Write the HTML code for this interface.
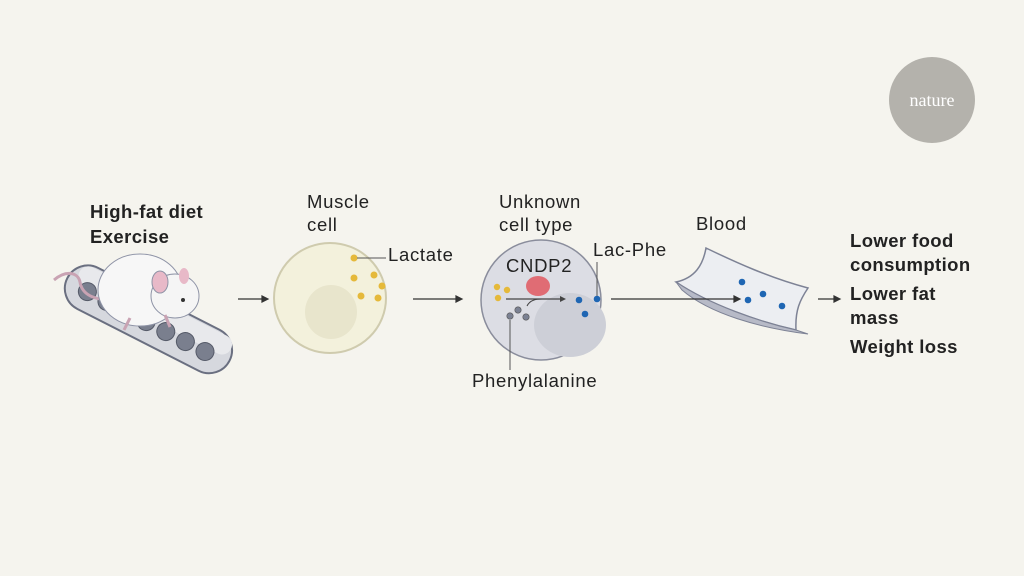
<!DOCTYPE html>
<html><head><meta charset="utf-8"><style>
html,body{margin:0;padding:0;background:#f5f4ee;}
svg{display:block}
text{font-family:"Liberation Sans",sans-serif;fill:#222;}
.l{font-size:18.5px;letter-spacing:0.7px}
.b{font-size:18.5px;font-weight:bold;letter-spacing:0.4px}
</style></head><body>
<svg width="1024" height="576" viewBox="0 0 1024 576">
<rect width="1024" height="576" fill="#f5f4ee"/>
<circle cx="932" cy="100" r="43" fill="#b4b2ac"/>
<text x="932" y="106" text-anchor="middle" font-size="18" style="fill:#fff;font-family:'Liberation Serif',serif">nature</text>

<text x="90" y="218" class="b">High-fat diet</text>
<text x="90" y="243" class="b">Exercise</text>

<!-- treadmill -->
<g transform="rotate(27 148 318)">
<rect x="58" y="296" width="182" height="46" rx="23" fill="#d6d8de" stroke="#6a6f80" stroke-width="2"/>
<rect x="66" y="298" width="170" height="20" rx="10" fill="#e8e9ec"/>
<g fill="#7a7f8e" stroke="#555a68" stroke-width="1">
<circle cx="82" cy="322" r="9"/><circle cx="104" cy="322" r="9"/><circle cx="126" cy="322" r="9"/><circle cx="148" cy="322" r="9"/><circle cx="170" cy="322" r="9"/><circle cx="192" cy="322" r="9"/><circle cx="214" cy="322" r="9"/>
</g></g>
<path d="M112 300 C95 300 82 295 80 282 C78 272 66 270 54 280" fill="none" stroke="#c9a3b3" stroke-width="3"/>
<ellipse cx="140" cy="290" rx="42" ry="36" fill="#f7f7f7" stroke="#8e93a6" stroke-width="1"/>
<ellipse cx="175" cy="296" rx="24" ry="22" fill="#f5f5f5" stroke="#8e93a6" stroke-width="1"/>
<ellipse cx="160" cy="282" rx="8" ry="11" fill="#e8b9c8" stroke="#8e93a6" stroke-width="1"/>
<ellipse cx="184" cy="276" rx="5" ry="8" fill="#e8b9c8"/>
<circle cx="183" cy="300" r="2" fill="#333"/>
<path d="M130 318 l-6 12 M165 315 l5 12" stroke="#c9a3b3" stroke-width="3"/>

<!-- muscle cell -->
<text x="307" y="208" class="l">Muscle</text>
<text x="307" y="231" class="l">cell</text>
<ellipse cx="330" cy="298" rx="56" ry="55" fill="#f3f1dc" stroke="#cfcbae" stroke-width="2"/>
<ellipse cx="331" cy="312" rx="26" ry="27" fill="#e8e5cc"/>
<g fill="#e5b93a"><circle cx="354" cy="258" r="3.5"/><circle cx="354" cy="278" r="3.5"/><circle cx="374" cy="275" r="3.5"/><circle cx="382" cy="286" r="3.5"/><circle cx="361" cy="296" r="3.5"/><circle cx="378" cy="298" r="3.5"/></g>
<line x1="357" y1="258" x2="386" y2="258" stroke="#555" stroke-width="1"/>
<text x="388" y="261" class="l">Lactate</text>

<!-- unknown cell -->
<text x="499" y="208" class="l">Unknown</text>
<text x="499" y="231" class="l">cell type</text>
<circle cx="541" cy="300" r="60" fill="#dcdde4" stroke="#8a8d9c" stroke-width="1.5"/>
<ellipse cx="570" cy="325" rx="36" ry="32" fill="#cdcfd7"/>
<text x="506" y="272" class="l">CNDP2</text>
<ellipse cx="538" cy="286" rx="12" ry="10" fill="#e06c74"/>
<g fill="#e5b93a"><circle cx="497" cy="287" r="3.2"/><circle cx="507" cy="290" r="3.2"/><circle cx="498" cy="298" r="3.2"/></g>
<g fill="#7b8193" stroke="#555" stroke-width=".6"><circle cx="518" cy="310" r="3.2"/><circle cx="510" cy="316" r="3.2"/><circle cx="526" cy="317" r="3.2"/></g>
<line x1="506" y1="299" x2="562" y2="299" stroke="#444" stroke-width="1.2"/><path d="M566 299 l-6 -3 v6z" fill="#444"/>
<path d="M527 306 C530 300 536 299 542 299" fill="none" stroke="#444" stroke-width="1"/>
<g fill="#1f66b3"><circle cx="579" cy="300" r="3.3"/><circle cx="597" cy="299" r="3.3"/><circle cx="585" cy="314" r="3.3"/></g>
<line x1="597" y1="262" x2="597" y2="296" stroke="#555" stroke-width="1"/>
<text x="593" y="256" class="l">Lac-Phe</text>
<line x1="510" y1="320" x2="510" y2="370" stroke="#555" stroke-width="1"/>
<text x="472" y="387" class="l">Phenylalanine</text>

<!-- blood vessel -->
<text x="696" y="230" class="l">Blood</text>
<path d="M706 248 C703 265 695 278 676 282 C710 305 760 322 796 330 C795 310 800 300 808 288 C770 278 735 262 706 248 Z" fill="#eceef2" stroke="#7d8295" stroke-width="1.5"/>
<path d="M676 282 C710 305 760 322 796 330 L808 334 C760 328 710 314 682 290 Z" fill="#b7bac7" stroke="#7d8295" stroke-width="1"/>
<g fill="#1f66b3"><circle cx="742" cy="282" r="3.3"/><circle cx="763" cy="294" r="3.3"/><circle cx="748" cy="300" r="3.3"/><circle cx="782" cy="306" r="3.3"/></g>

<!-- arrows -->
<g stroke="#333" stroke-width="1.2" fill="#333">
<line x1="238" y1="299" x2="264" y2="299"/><path d="M268 299 l-6 -3 v6z"/>
<line x1="413" y1="299" x2="458" y2="299"/><path d="M462 299 l-6 -3 v6z"/>
<line x1="611" y1="299" x2="736" y2="299"/><path d="M740 299 l-6 -3 v6z"/>
<line x1="818" y1="299" x2="836" y2="299"/><path d="M840 299 l-6 -3 v6z"/>
</g>

<g class="b">
<text x="850" y="247" class="b">Lower food</text>
<text x="850" y="271" class="b">consumption</text>
<text x="850" y="300" class="b">Lower fat</text>
<text x="850" y="324" class="b">mass</text>
<text x="850" y="353" class="b">Weight loss</text>
</g>
</svg>
</body></html>
